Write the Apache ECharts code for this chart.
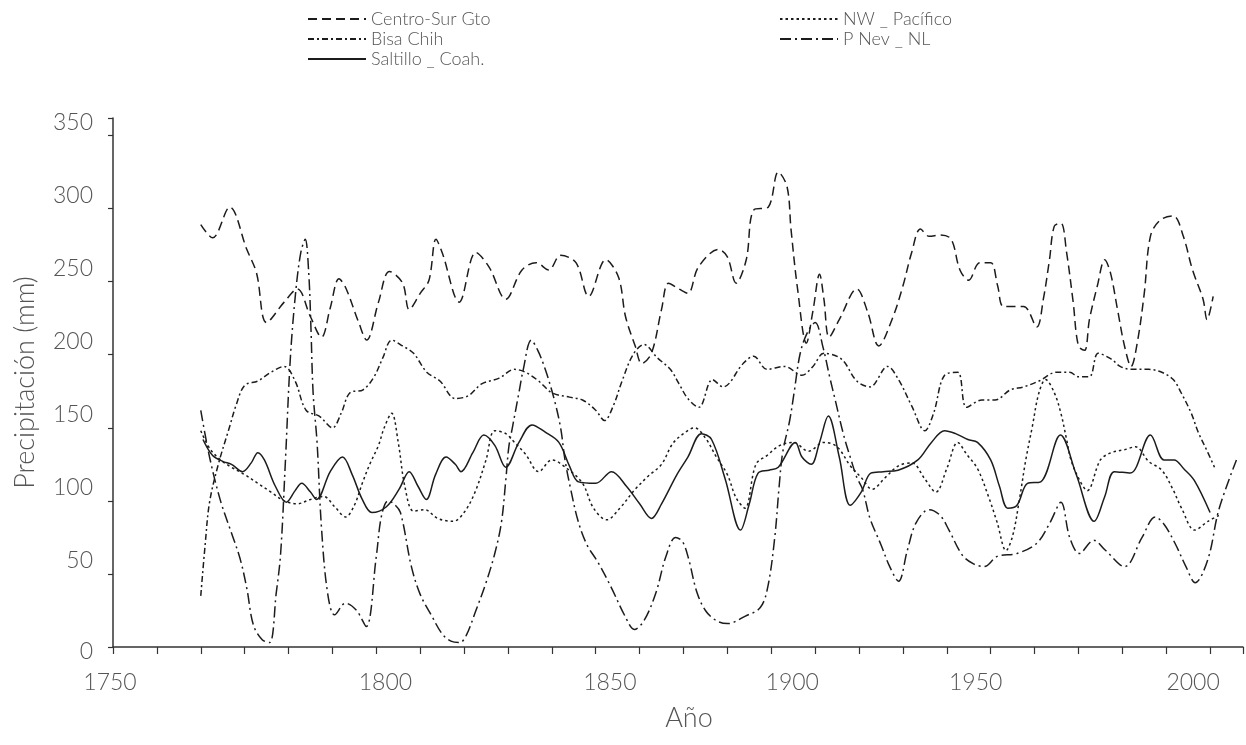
<!DOCTYPE html>
<html>
<head>
<meta charset="utf-8">
<script src="https://cdn.jsdelivr.net/npm/echarts@6/dist/echarts.min.js"></script>
<style>
  html, body { margin: 0; padding: 0; background: #fff; }
  #chart { width: 1246px; height: 745px; }
</style>
</head>
<body>
<div id="chart"></div>
<script>
// Series values: [year, precipitation mm]
var centroSur = [
    [1770,289],[1772.7,280],[1776.6,301],[1780.5,272],[1782.7,256],[1785,222],[1789,236],[1792,245],
    [1795,226],[1797.5,212],[1799.5,232],[1801.5,252],[1803,246],[1806,222],[1807.8,210],[1810.5,236],
    [1813,257],[1816,249],[1817.5,231],[1820,242],[1822,251],[1823.6,279],[1825,270],[1828.9,236],
    [1832.7,270],[1835.7,260],[1839.5,238],[1843.2,258],[1846.4,263],[1849.3,258],[1852,268],[1855.5,263],
    [1858.4,240],[1862.3,265],[1865.2,253],[1866.8,226],[1869,206],[1870.5,194],[1872.7,201],[1875,231],
    [1876.6,249],[1879,245],[1881,242],[1883.4,260],[1888,272],[1890,267],[1892,249],[1894.3,265],
    [1896,299],[1899.3,301],[1901.6,325],[1903.6,315],[1904.5,286],[1906,245],[1908,208],[1909.5,230],
    [1911,255],[1912,238],[1913.2,212],[1915.5,224],[1919.5,245],[1922,229],[1924.5,206],[1927.5,224],
    [1930,247],[1932,270],[1934,286],[1936,281],[1938.5,282],[1941,279],[1943,258],[1945,251],
    [1947.5,263],[1950,263],[1951.6,247],[1953,233],[1957.5,233],[1960.5,219],[1962,238],[1963.4,265],
    [1964.5,288],[1966,290],[1967.3,270],[1968.8,236],[1970,206],[1971.4,203],[1972.5,224],[1974.3,247],
    [1976,265],[1977.3,256],[1978.9,231],[1980.5,206],[1982,192],[1983.4,208],[1985,242],[1986.4,281],
    [1988.6,292],[1991.6,295],[1993.9,281],[1996,258],[1998.4,238],[1999.3,224],[2000.7,240]
];

var bisaChih = [
    [1770,35],[1771,70],[1772,99],[1774,125],[1776.5,150],[1778,165],[1780,179],[1783,182],
    [1786,188],[1789,192],[1791.5,182],[1794,162],[1797,158],[1800,150],[1802,160],[1804,174],
    [1807,176],[1809.5,185],[1811.5,198],[1813.5,210],[1816,206],[1818.5,201],[1821.5,188],[1824.5,182],
    [1828,170],[1831,172],[1834,180],[1838,184],[1841.5,190],[1844,188],[1847,182],[1850,174],
    [1854,171],[1857,169],[1860,162],[1862,155],[1864,165],[1866,182],[1868.5,200],[1871,207],
    [1874,198],[1877,190],[1879,180],[1881,170],[1883.5,164],[1886.6,183],[1889,178],[1893.6,194],
    [1896,199],[1899,190],[1903,192],[1907,186],[1909.5,192],[1912,201],[1916,197],[1919.5,182],
    [1922.5,178],[1926.5,192],[1929,183],[1932,165],[1935,148],[1937,160],[1939.5,186],[1942.5,188],
    [1944.5,164],[1948,169],[1951,169],[1954.5,176],[1957.5,178],[1961,182],[1965,188],[1968,188],
    [1970,185],[1972.5,185],[1974.5,201],[1977.5,197],[1979.5,192],[1982,190],[1986,190],[1989,188],
    [1991.6,183],[1993.4,174],[1995.7,160],[1997.3,147],[1999.5,133],[2001,123]
];

var saltillo = [
    [1770.5,142],[1772.7,131],[1775,127],[1777,125],[1779.5,120],[1781.5,126],[1783,133],[1784.5,128],
    [1787,110],[1789.5,99],[1791.5,107],[1793,112],[1795,106],[1796.4,101],[1799.5,120],[1802.3,130],
    [1804.5,118],[1806.8,101],[1809,92],[1812.3,96],[1815.2,108],[1817.5,120],[1819.5,110],[1821.4,101],
    [1823.5,118],[1825.9,130],[1828,125],[1829.3,120],[1832,133],[1834.5,145],[1837,138],[1839.5,123],
    [1842.5,140],[1845.5,152],[1848.5,147],[1851.6,140],[1854,124],[1856.1,113],[1860,112],[1863.6,120],
    [1867,110],[1870,98],[1872.7,88],[1875,98],[1878.5,118],[1881,130],[1884.1,146],[1886.4,142],
    [1889.5,115],[1893,80],[1895,98],[1897,119],[1899.5,121],[1901.6,123],[1905.5,140],[1907,130],
    [1909.1,125],[1911,140],[1913,158],[1915.5,130],[1918,97],[1920.5,106],[1922.7,119],[1925.5,120],
    [1928.9,121],[1933.4,128],[1936.5,140],[1939.5,148],[1942,146],[1944.8,142],[1947,140],[1950,128],
    [1952,110],[1953.9,95],[1956,97],[1958.4,112],[1961.4,113],[1965.9,145],[1969.5,118],[1973.6,86],
    [1976,103],[1978.2,120],[1981.8,119],[1986.4,145],[1989.5,128],[1991.8,128],[1994,122],[1996.4,114],
    [2000,92]
];

var nwPacifico = [
    [1770,148],[1772,136],[1774.5,128],[1777,123],[1780,118],[1783,112],[1786,106],[1789,100],
    [1792,98],[1795,101],[1798,103],[1800.5,96],[1803,89],[1805,97],[1806.8,112],[1808.5,125],
    [1810.5,138],[1811.8,150],[1813.5,160],[1815,140],[1816.5,110],[1818.5,93],[1821,94],[1824,88],
    [1827.5,86],[1830,92],[1832.5,106],[1835,128],[1837,148],[1839.5,146],[1841.5,140],[1844,132],
    [1847,120],[1850,128],[1853.5,122],[1857,112],[1859.5,95],[1862.5,87],[1865.5,95],[1869,108],
    [1872,117],[1875,125],[1877.5,139],[1880,146],[1882.5,150],[1885,143],[1887.5,130],[1890,118],
    [1892,102],[1894,95],[1896.5,125],[1899,131],[1902,138],[1905,140],[1908.5,134],[1912,140],
    [1915,137],[1918,124],[1920.5,116],[1923,108],[1926,116],[1929,124],[1932,126],[1935,115],
    [1937.5,106],[1940,122],[1942.5,140],[1944.5,132],[1947,122],[1949.5,103],[1951.5,85],[1953.5,66],
    [1955,76],[1956.5,100],[1958,128],[1959.5,151],[1961,174],[1962.5,183],[1964.5,174],[1966,160],
    [1967.3,142],[1968.3,128],[1970.3,114],[1972,107],[1975,128],[1977.5,133],[1980.5,135],[1983,137],
    [1986,127],[1989,121],[1991.5,108],[1993.5,95],[1996.5,80],[1999.5,86],[2002,90]
];

var pNev = [
    [1770,162],[1772,130],[1774.5,100],[1777,78],[1779,60],[1780.5,40],[1782,15],[1784,5],
    [1785.7,3],[1787.2,37],[1788.2,64],[1789.3,128],[1790.4,197],[1791.6,242],[1792.8,270],[1793.8,279],
    [1794.6,256],[1795.1,219],[1795.6,174],[1796.5,140],[1797.5,82],[1798.9,37],[1800.5,22],[1803,30],
    [1805.5,25],[1807.7,14],[1810,62],[1811.2,90],[1812.7,100],[1814,98],[1815.5,92],[1818,55],
    [1820,36],[1822.5,22],[1825,9],[1827,4],[1829,3],[1830.5,8],[1832.7,25],[1835,44],
    [1837,64],[1838.5,85],[1839.5,114],[1840.2,137],[1841,150],[1842.5,174],[1843.5,190],[1845.3,210],
    [1846.8,203],[1848.5,190],[1850.5,170],[1852,150],[1853,128],[1854.3,108],[1856,86],[1858,70],
    [1860.5,58],[1863.5,41],[1866.7,21],[1868.8,12],[1871,18],[1873.7,37],[1876,62],[1878.2,75],
    [1879.8,72],[1881.2,60],[1883,38],[1885,25],[1887.5,18],[1890,16],[1894,21],[1897.5,27],
    [1899.2,41],[1900.8,75],[1901.8,110],[1902.6,133],[1904.2,155],[1905.2,174],[1906.6,201],[1908.2,215],
    [1910,222],[1911.8,205],[1913.3,185],[1914.5,170],[1916.5,145],[1918.2,128],[1919.5,116],[1920.8,108],
    [1922.5,88],[1925,70],[1927,55],[1929,45],[1931,66],[1933,85],[1936,94],[1938.5,90],
    [1940.5,80],[1943.5,63],[1946,57],[1948.5,55],[1951.5,62],[1956,64],[1960.5,71],[1963.5,85],
    [1966,99],[1968,75],[1970.2,64],[1973.5,73],[1976.2,66],[1980.5,55],[1984.5,75],[1987.5,89],
    [1989.5,84],[1992,71],[1994.5,55],[1996.6,44],[1999.5,60],[2002,94],[2006,128]
];

var seriesNames = ['Centro-Sur Gto', 'Bisa Chih', 'Saltillo _ Coah.', 'NW _ Pacífico', 'P Nev _ NL'];
var yTicks = [0, 50, 100, 150, 200, 250, 300, 350];
var xLabelYears = [1750, 1800, 1850, 1900, 1950, 2000];

// the printed year labels sit off their ticks in the original figure (px)
var xLabelShift = { 1750: -3, 1800: 53, 1850: 58, 1900: 21, 1950: -15, 2000: -17 };

var FONT = 'Lato';
var INK = '#1c1c1c';
var TXT = '#555';

function lineSeries(name, data, dash, width) {
    return {
        name: name,
        type: 'line',
        data: data,
        smooth: 0.35,
        showSymbol: false,
        symbol: 'none',
        clip: true,
        lineStyle: { color: INK, width: width || 1.5, type: dash },
        itemStyle: { color: INK }
    };
}

// rich styles that nudge each year label sideways
var xRich = {};
xLabelYears.forEach(function (y) {
    var d = xLabelShift[y];
    xRich['y' + y] = {
        fontFamily: FONT, fontWeight: 300, fontSize: 23, color: TXT,
        padding: d >= 0 ? [0, 0, 0, 2 * d] : [0, -2 * d, 0, 0]
    };
});

var legendText = { fontFamily: FONT, fontWeight: 300, fontSize: 18, color: TXT, lineHeight: 20 };
var legendBase = {
    orient: 'vertical', top: 4,
    itemWidth: 58, itemHeight: 12, itemGap: 0,
    itemStyle: { opacity: 0 },
    textStyle: legendText
};

var chart = echarts.init(document.getElementById('chart'));
chart.setOption({
    animation: false,
    backgroundColor: '#fff',
    legend: [
        Object.assign({ data: seriesNames.slice(0, 3), left: 302 }, legendBase),
        Object.assign({ data: seriesNames.slice(3), left: 774 }, legendBase)
    ],
    grid: { left: 113, right: 0, top: 118, bottom: 98 },
    xAxis: {
        type: 'value',
        min: 1750, max: 2007.5, interval: 10,
        name: 'Año', nameLocation: 'middle', nameGap: 58,
        nameTextStyle: { fontFamily: FONT, fontWeight: 300, fontSize: 27, color: TXT, padding: [0, 0, 0, 22] },
        axisLine: { lineStyle: { color: '#333', width: 1.5 } },
        axisTick: { length: 7, lineStyle: { color: '#333', width: 1.2 } },
        splitLine: { show: false },
        axisLabel: {
            margin: 24,
            formatter: function (v) {
                return xLabelYears.indexOf(v) >= 0 ? '{y' + v + '|' + v + '}' : '';
            },
            rich: xRich
        }
    },
    yAxis: {
        type: 'value',
        min: 0, max: 362, interval: 50,
        name: 'Precipitación (mm)', nameLocation: 'middle', nameGap: 74, nameRotate: 90,
        nameTextStyle: { fontFamily: FONT, fontWeight: 300, fontSize: 27, color: TXT },
        axisLine: { show: true, lineStyle: { color: '#333', width: 1.5 } },
        axisTick: { show: true, length: 5, lineStyle: { color: '#333', width: 1.2 } },
        splitLine: { show: false },
        axisLabel: {
            margin: 20,
            formatter: function (v) {
                if (yTicks.indexOf(v) < 0) return '';
                return v === 0 ? '{z|0}' : '{u|' + v + '}';
            },
            rich: {
                u: { fontFamily: FONT, fontWeight: 300, fontSize: 23, color: TXT, padding: [0, 0, 26, 0] },
                z: { fontFamily: FONT, fontWeight: 300, fontSize: 23, color: TXT, padding: [10, 0, 0, 0] }
            }
        }
    },
    series: [
        lineSeries(seriesNames[0], centroSur, [9, 5]),
        lineSeries(seriesNames[1], bisaChih, [6, 3, 2, 3]),
        lineSeries(seriesNames[2], saltillo, 'solid', 1.5),
        lineSeries(seriesNames[3], nwPacifico, [2.5, 3]),
        lineSeries(seriesNames[4], pNev, [11, 4, 2, 4])
    ]
});
</script>
</body>
</html>
